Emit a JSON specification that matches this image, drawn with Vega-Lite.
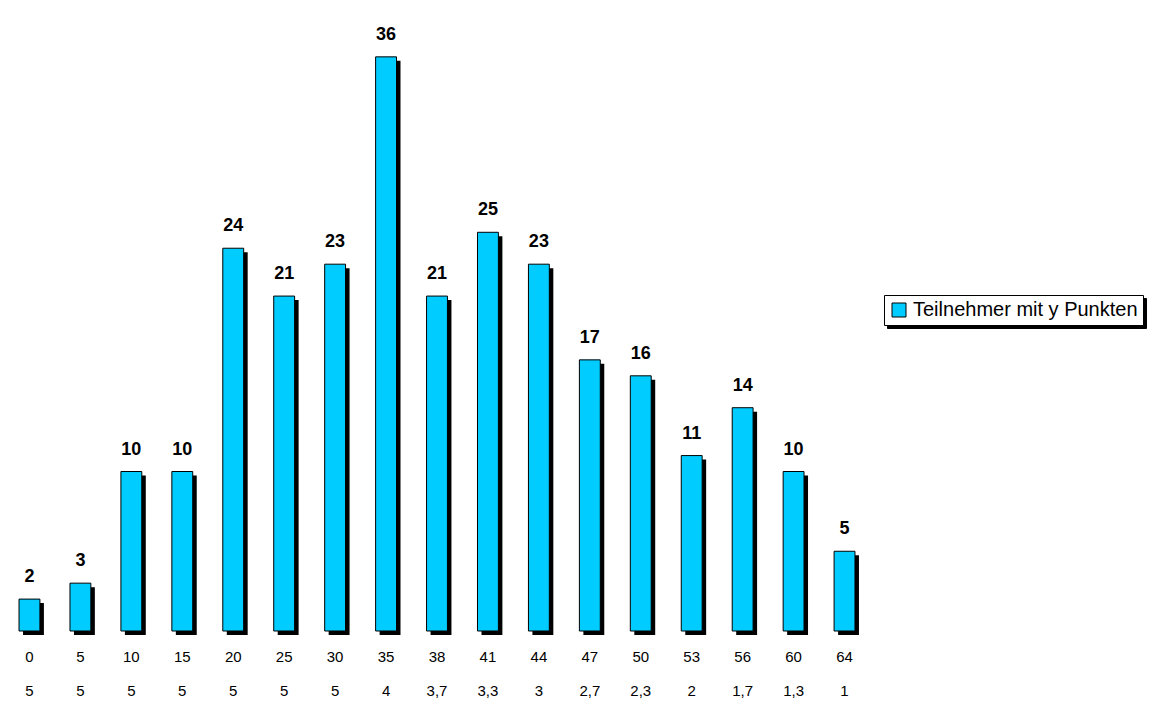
{
  "$schema": "https://vega.github.io/schema/vega-lite/v6.json",
  "width": 866,
  "height": 622,
  "padding": {"left": 4, "top": 9, "right": 0, "bottom": 0},
  "background": "white",
  "config": {"view": {"stroke": null}, "font": "Liberation Sans"},
  "data": {"values": [
    {"punkte": "0", "note": "5", "teilnehmer": 2},
    {"punkte": "5", "note": "5", "teilnehmer": 3},
    {"punkte": "10", "note": "5", "teilnehmer": 10},
    {"punkte": "15", "note": "5", "teilnehmer": 10},
    {"punkte": "20", "note": "5", "teilnehmer": 24},
    {"punkte": "25", "note": "5", "teilnehmer": 21},
    {"punkte": "30", "note": "5", "teilnehmer": 23},
    {"punkte": "35", "note": "4", "teilnehmer": 36},
    {"punkte": "38", "note": "3,7", "teilnehmer": 21},
    {"punkte": "41", "note": "3,3", "teilnehmer": 25},
    {"punkte": "44", "note": "3", "teilnehmer": 23},
    {"punkte": "47", "note": "2,7", "teilnehmer": 17},
    {"punkte": "50", "note": "2,3", "teilnehmer": 16},
    {"punkte": "53", "note": "2", "teilnehmer": 11},
    {"punkte": "56", "note": "1,7", "teilnehmer": 14},
    {"punkte": "60", "note": "1,3", "teilnehmer": 10},
    {"punkte": "64", "note": "1", "teilnehmer": 5}
  ]},
  "transform": [{"calculate": "datum.punkte + '|' + datum.note", "as": "achse"}],
  "encoding": {
    "x": {
      "field": "achse", "type": "ordinal", "sort": null,
      "scale": {"paddingInner": 0.59, "paddingOuter": 0.295},
      "axis": {
        "title": null, "domain": false, "ticks": false, "labelAngle": 0,
        "labelExpr": "split(datum.label, '|')",
        "labelFontSize": 15, "labelColor": "black", "labelPadding": 18,
        "labelLineHeight": 34, "labelBaseline": "top"
      }
    },
    "y": {
      "field": "teilnehmer", "type": "quantitative",
      "scale": {"domain": [0, 39], "nice": false},
      "axis": null
    }
  },
  "layer": [
    {
      "mark": {"type": "bar", "xOffset": 4, "yOffset": 4, "y2Offset": 0},
      "encoding": {
        "fill": {
          "datum": "Schatten",
          "type": "nominal",
          "scale": {"range": ["black"]},
          "legend": {
            "title": null, "orient": "none", "legendX": 883, "legendY": 289,
            "strokeColor": "black", "fillColor": "black", "padding": 5, "zindex": 0,
            "labelExpr": "''", "labelOffset": 229,
            "symbolType": "square", "symbolSize": 196, "symbolFillColor": "black",
            "symbolStrokeColor": "black", "symbolStrokeWidth": 1,
            "labelFontSize": 20, "labelColor": "black", "labelLimit": 400
          }
        }
      }
    },
    {
      "mark": {"type": "bar", "fill": "#00CCFF", "strokeWidth": 1},
      "encoding": {
        "stroke": {
          "datum": "Teilnehmer mit y Punkten",
          "type": "nominal",
          "scale": {"range": ["black"]},
          "legend": {
            "title": null, "orient": "none", "legendX": 880, "legendY": 286,
            "strokeColor": "black", "fillColor": "white", "padding": 5, "zindex": 1,
            "symbolType": "square", "symbolSize": 196, "symbolStrokeColor": "black",
            "symbolFillColor": "#00CCFF",
            "symbolStrokeWidth": 1, "labelFontSize": 20, "labelColor": "black",
            "labelLimit": 400
          }
        }
      }
    },
    {
      "mark": {"type": "text", "fontSize": 18, "fontWeight": "bold", "baseline": "bottom", "dy": -13, "color": "black"},
      "encoding": {"text": {"field": "teilnehmer", "type": "quantitative"}}
    }
  ]
}
